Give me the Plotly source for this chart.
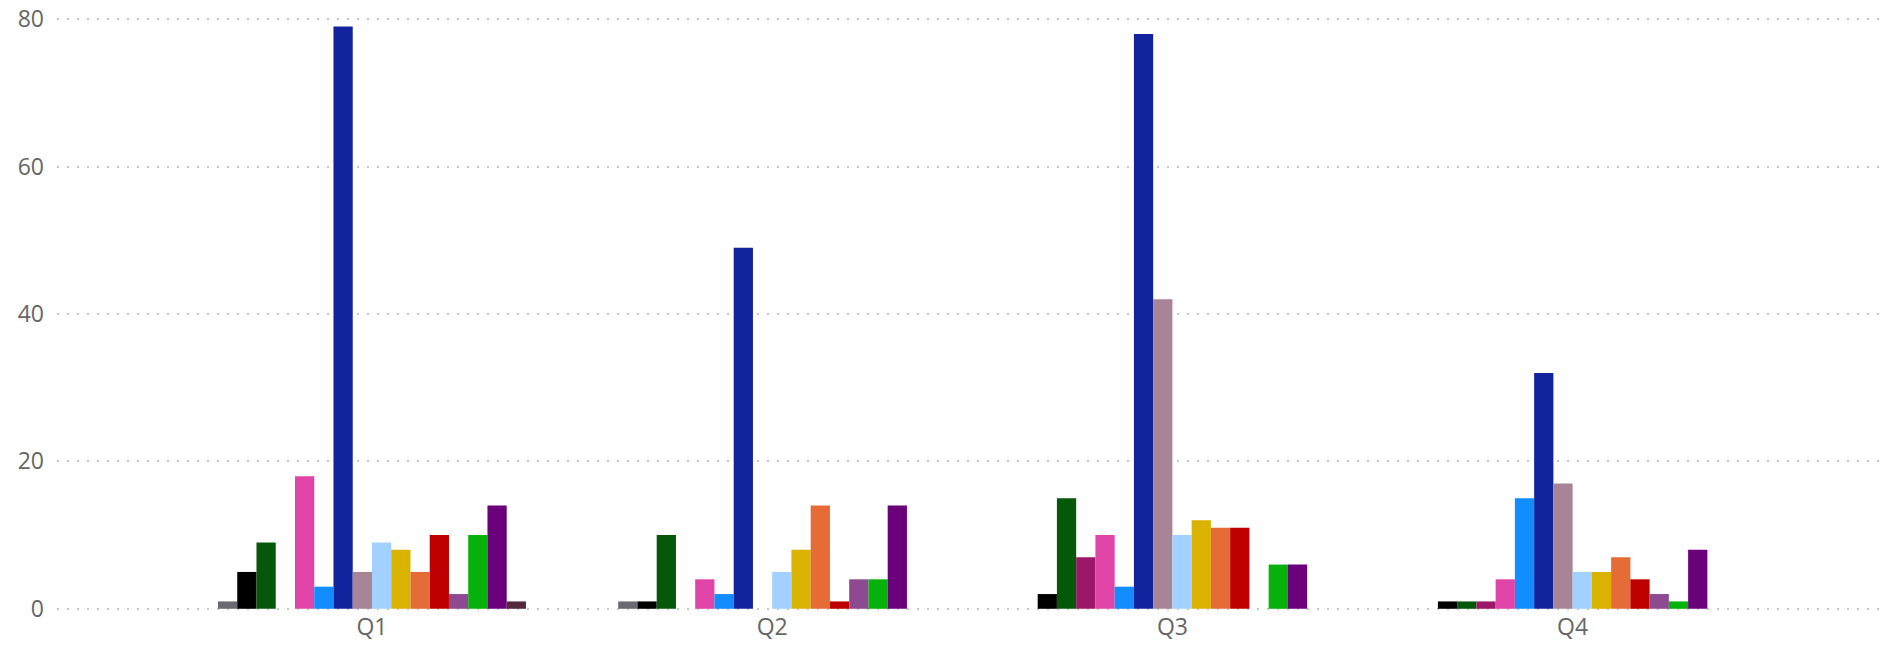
import plotly.graph_objects as go

categories = ["Q1", "Q2", "Q3", "Q4"]

series_names = [
    "S01", "S02", "S03", "S04", "S05", "S06", "S07", "S08",
    "S09", "S10", "S11", "S12", "S13", "S14", "S15", "S16",
]
series_colors = [
    "#6B6A73", "#000000", "#05580A", "#9B1767", "#E044A7", "#118DFF", "#12239E", "#A78496",
    "#A3D1FF", "#D9B300", "#E66C37", "#BE0000", "#8D4A91", "#06B10B", "#6B007B", "#54293F",
]
# values per series for Q1..Q4 (None = no bar)
series_values = [
    [1, 1, None, None],
    [5, 1, 2, 1],
    [9, 10, 15, 1],
    [None, None, 7, 1],
    [18, 4, 10, 4],
    [3, 2, 3, 15],
    [79, 49, 78, 32],
    [5, None, 42, 17],
    [9, 5, 10, 5],
    [8, 8, 12, 5],
    [5, 14, 11, 7],
    [10, 1, 11, 4],
    [2, 4, None, 2],
    [10, 4, 6, 1],
    [14, 14, 6, 8],
    [1, None, None, None],
]

y_ticks = [0, 20, 40, 60, 80]

fig = go.Figure()
for name, color, vals in zip(series_names, series_colors, series_values):
    fig.add_trace(go.Bar(
        name=name, x=categories, y=vals,
        marker=dict(color=color, line=dict(width=0)),
    ))

font_family = "Open Sans, Noto Sans, sans-serif"
fig.update_layout(
    width=1880, height=647,
    barmode="group", bargap=0.2305, bargroupgap=0,
    showlegend=False,
    plot_bgcolor="white", paper_bgcolor="white",
    margin=dict(l=57, r=0, t=17, b=36, autoexpand=False),
    font=dict(family=font_family, size=23, color="#666666"),
    xaxis=dict(
        type="category", range=[-0.787, 3.768],
        showgrid=False, showline=False, zeroline=False, ticks="",
        tickfont=dict(size=23, color="#666666"),
        ticklabeloverflow="allow", automargin=False,
    ),
    yaxis=dict(
        range=[-0.3, 80.3], tickvals=y_ticks,
        showgrid=True, gridcolor="#C8C8C8", gridwidth=2, griddash="2px,8px",
        zeroline=False, showline=False, ticks="",
        ticklabelstandoff=12, ticklabeloverflow="allow", automargin=False,
        tickfont=dict(size=23, color="#666666"),
    ),
)

fig.write_html(
    "out.html",
    config={"displayModeBar": False},
    post_script="document.body.style.margin='0';document.body.style.overflow='hidden';",
)
